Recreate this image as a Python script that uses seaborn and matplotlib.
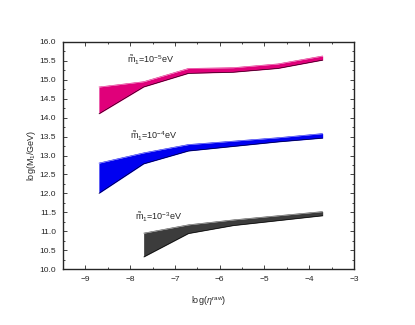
import numpy as np
import pandas as pd
import seaborn as sns
import matplotlib.pyplot as plt
from matplotlib.ticker import MultipleLocator

# Data
x_eta = [-8.7, -7.7, -6.7, -5.7, -4.7, -3.7]
pink_hi = [14.81, 14.95, 15.30, 15.32, 15.42, 15.63]
pink_lo = [14.10, 14.81, 15.17, 15.20, 15.30, 15.52]
blue_hi = [12.80, 13.07, 13.29, 13.38, 13.47, 13.58]
blue_lo = [12.00, 12.78, 13.12, 13.24, 13.36, 13.46]
x_gray = [-7.7, -6.7, -5.7, -4.7, -3.7]
gray_hi = [10.95, 11.17, 11.30, 11.41, 11.52]
gray_lo = [10.32, 10.94, 11.15, 11.28, 11.41]

labels = [r"$\tilde{\rm m}_1$=10$^{-5}$eV", r"$\tilde{\rm m}_1$=10$^{-4}$eV", r"$\tilde{\rm m}_1$=10$^{-3}$eV"]
label_pos = [(-8.08, 15.43), (-8.0, 13.43), (-7.9, 11.29)]
colors = ["#e0007a", "#0000f0", "#3c3c3c"]

sns.set_style("ticks")
plt.rcParams['font.family'] = ['Liberation Sans', 'DejaVu Sans']
plt.rcParams['mathtext.fontset'] = 'custom'
plt.rcParams['mathtext.rm'] = 'Liberation Sans'
plt.rcParams['mathtext.it'] = 'Liberation Sans:italic'

fig = plt.figure(figsize=(4.15, 3.25), dpi=100)
ax = fig.add_axes([0.152, 0.172, 0.701, 0.699])

bands = [
    (x_eta, pink_lo, pink_hi),
    (x_eta, blue_lo, blue_hi),
    (x_gray, gray_lo, gray_hi),
]
for (xs, lo, hi), c in zip(bands, colors):
    df = pd.DataFrame({"x": xs, "lo": lo, "hi": hi})
    ax.fill_between(df["x"], df["lo"], df["hi"], color=c, linewidth=0)
    sns.lineplot(data=df, x="x", y="lo", ax=ax, color="black", linewidth=0.4)
    sns.lineplot(data=df, x="x", y="hi", ax=ax, color=c, linewidth=0.4)

for txt, (tx, ty) in zip(labels, label_pos):
    ax.text(tx, ty, txt, fontsize=6.5, ha="left", va="baseline")

ax.set_xlim(-9.5, -3)
ax.set_ylim(10, 16)
ax.xaxis.set_major_locator(MultipleLocator(1))
ax.xaxis.set_minor_locator(MultipleLocator(0.5))
ax.yaxis.set_major_locator(MultipleLocator(0.5))
ax.yaxis.set_minor_locator(MultipleLocator(0.25))
ax.set_yticklabels([f"{v:.1f}" for v in ax.get_yticks()])
ax.tick_params(which="both", direction="in", top=True, right=True, labelsize=6, width=0.6)
ax.tick_params(which="major", length=3, pad=5)
ax.tick_params(which="minor", length=1.5)
for s in ax.spines.values():
    s.set_linewidth(1.0)

ax.set_xlabel(r"log($\eta^{\rm raw}$)", fontsize=6.5, labelpad=8)
ax.set_ylabel(r"log(M$_1$/GeV)", fontsize=6.5, labelpad=1)

fig.savefig("out.png", dpi=100)
